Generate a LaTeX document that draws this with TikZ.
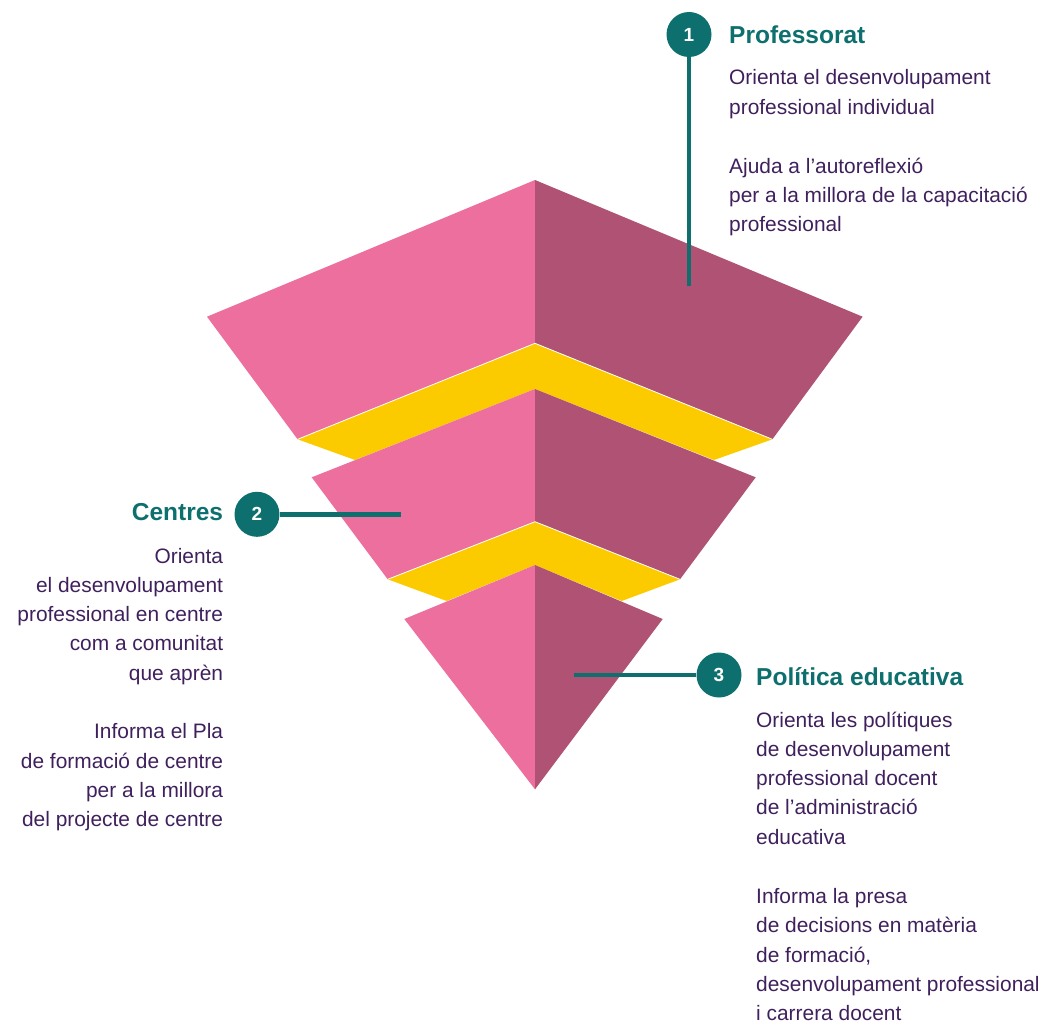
\documentclass[tikz,border=0pt]{standalone}
\usepackage{fontspec}
\setmainfont{Liberation Sans}
\definecolor{pinkL}{HTML}{EC6F9D}
\definecolor{pinkR}{HTML}{AF5273}
\definecolor{gold}{HTML}{FBCB00}
\definecolor{tealc}{HTML}{0E6F6F}
\definecolor{txt}{HTML}{3F205D}
\begin{document}
\begin{tikzpicture}[x=1pt,y=-1pt,
  body/.style={font=\fontsize{20.9}{29.2}\selectfont, text=txt, inner sep=0pt, align=left},
  bodyr/.style={body, align=right},
  head/.style={font=\fontsize{24.5}{29}\selectfont\bfseries, text=tealc, inner sep=0pt},
  num/.style={circle, fill=tealc, minimum size=45pt, inner sep=0pt, text=white, font=\fontsize{19}{19}\selectfont\bfseries},
  conn/.style={draw=tealc, line width=4.6pt},
  faceL/.style={fill=pinkL},
  faceR/.style={fill=pinkR},
  band/.style={fill=gold},
  seam/.style={draw=white, line width=0.8pt}
]
\useasboundingbox (0,0) rectangle (1046,1022);

% tier 1
\fill[faceL] (535,180) -- (207,316.7) -- (297.6,439.3) -- (535,343.3) -- cycle;
\fill[faceR] (535,180) -- (862.6,316.7) -- (772.4,439.3) -- (535,343.3) -- cycle;
% band 1
\fill[band] (297.6,439.3) -- (535,343.3) -- (772.4,439.3) -- (714,460) -- (535,389) -- (355,460) -- cycle;
\draw[seam] (297.6,439.3) -- (535,343.3) -- (772.4,439.3);
% tier 2
\fill[faceL] (535,389) -- (311.7,477.3) -- (387.7,579.3) -- (535,521.7) -- cycle;
\fill[faceR] (535,389) -- (755.7,477.3) -- (680,579.3) -- (535,521.7) -- cycle;
% band 2
\fill[band] (387.7,579.3) -- (535,521.7) -- (680,579.3) -- (621.7,601) -- (535,565) -- (446.7,601) -- cycle;
\draw[seam] (387.7,579.3) -- (535,521.7) -- (680,579.3);
% tier 3
\fill[faceL] (535,565) -- (404.3,619) -- (535,789.3) -- cycle;
\fill[faceR] (535,565) -- (662.7,619) -- (535,789.3) -- cycle;

% callout 1 (text nodes anchored at the baseline of their last line)
\node[num] (c1) at (689,34.5) {1};
\coordinate (e1) at (689,286);
\draw[conn] (c1) -- (e1);
\node[head, anchor=base west] (h1) at (729,43.3) {Professorat};
\node[body, anchor=base west] (t1a) at (729,114) {Orienta el desenvolupament\\professional individual};
\node[body, anchor=base west] (t1b) at (729,231.5) {Ajuda a l’autoreflexió\\per a la millora de la capacitació\\professional};

% callout 2
\node[num] (c2) at (257,514.3) {2};
\coordinate (e2) at (401,514.3);
\draw[conn] (c2) -- (e2);
\node[head, anchor=base east] (h2) at (223.3,520.7) {Centres};
\node[bodyr, anchor=base east] (t2a) at (223.3,680) {Orienta\\el desenvolupament\\professional en centre\\com a comunitat\\que aprèn};
\node[bodyr, anchor=base east] (t2b) at (223.3,826.5) {Informa el Pla\\de formació de centre\\per a la millora\\del projecte de centre};

% callout 3
\node[num] (c3) at (719,675) {3};
\coordinate (e3) at (574,675);
\draw[conn] (e3) -- (c3);
\node[head, anchor=base west] (h3) at (756,685) {Política educativa};
\node[body, anchor=base west] (t3a) at (756,844) {Orienta les polítiques\\de desenvolupament\\professional docent\\de l’administració\\educativa};
\node[body, anchor=base west] (t3b) at (756,1020.5) {Informa la presa\\de decisions en matèria\\de formació,\\desenvolupament professional\\i carrera docent};
\end{tikzpicture}
\end{document}
